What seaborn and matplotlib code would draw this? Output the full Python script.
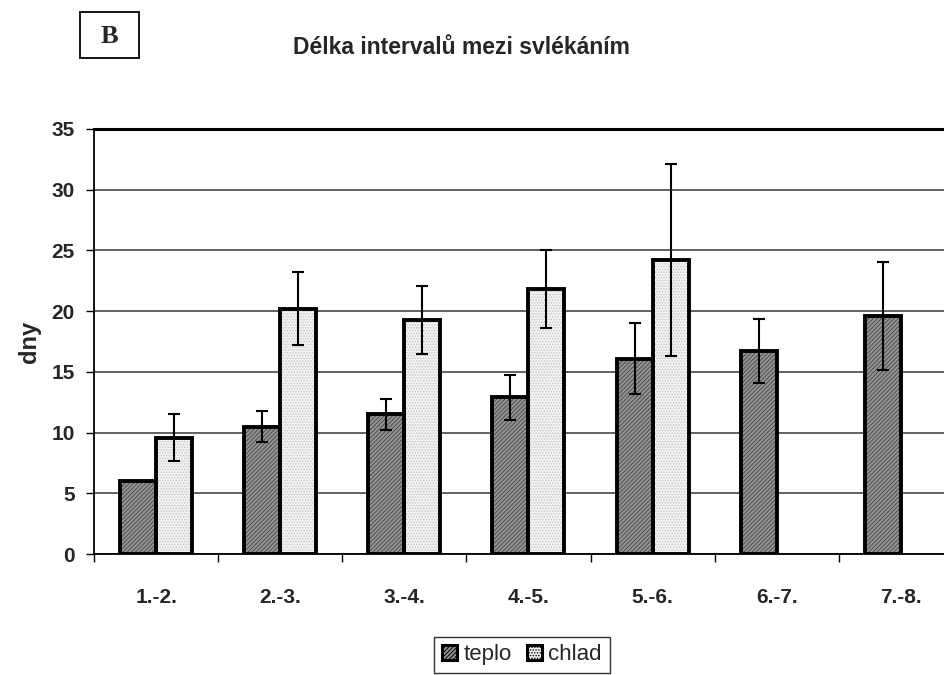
import numpy as np
import pandas as pd
import seaborn as sns
import matplotlib.pyplot as plt
from matplotlib.patches import Rectangle, Patch

# Moult-interval lengths (days), means and error half-widths
intervals = ["1.-2.", "2.-3.", "3.-4.", "4.-5.", "5.-6.", "6.-7.", "7.-8."]
teplo_mean = [6.0, 10.5, 11.5, 12.9, 16.1, 16.7, 19.6]
teplo_err = [np.nan, 1.25, 1.27, 1.85, 2.9, 2.65, 4.45]
chlad_mean = [9.6, 20.2, 19.3, 21.8, 24.2, np.nan, np.nan]
chlad_err = [1.9, 3.0, 2.8, 3.2, 7.9, np.nan, np.nan]
groups = ["teplo", "chlad"]
y_ticks = [0, 5, 10, 15, 20, 25, 30, 35]

sns.set_theme(style="white")
plt.rcParams["font.family"] = ["Liberation Sans", "DejaVu Sans"]
plt.rcParams["hatch.linewidth"] = 0.7

rows = []
for i, name in enumerate(intervals):
    for g, means in zip(groups, [teplo_mean, chlad_mean]):
        if not np.isnan(means[i]):
            rows.append({"interval": name, "skupina": g, "dny": means[i]})
df = pd.DataFrame(rows)
errors = {"teplo": teplo_err, "chlad": chlad_err}

face = {"teplo": "#969696", "chlad": "#f3f3f3"}
hatch = {"teplo": "////////", "chlad": "......"}
hatch_col = {"teplo": "#4a4a4a", "chlad": "#c4c4c4"}

fig = plt.figure(figsize=(9.44, 6.75), dpi=100)
ax = fig.add_axes([0.0996, 0.179, 0.9205, 0.630])

sns.barplot(data=df, x="interval", y="dny", hue="skupina", order=intervals,
            hue_order=groups, palette=face, width=0.58, errorbar=None,
            edgecolor="black", linewidth=2.5, legend=False, ax=ax)

# texture the bars, then redraw their outlines and error bars
for p in list(ax.patches):
    h = p.get_height()
    if not np.isfinite(h) or h == 0:
        continue
    x0, w = p.get_x(), p.get_width()
    xc = x0 + w / 2
    cat = int(round(xc))
    g = "teplo" if xc < cat else "chlad"
    p.set_hatch(hatch[g])
    p.set_edgecolor(hatch_col[g])
    p.set_linewidth(0)
    ax.add_patch(Rectangle((x0, 0), w, h, fill=False, edgecolor="black",
                           linewidth=2.8, zorder=p.get_zorder() + 0.1))
    e = errors[g][cat]
    if np.isfinite(e):
        ax.errorbar(xc, h, yerr=e, fmt="none", ecolor="black", elinewidth=1.5,
                    capsize=4.5, capthick=1.5, zorder=6)

ax.set_ylim(0, 35)
ax.set_xlim(-0.5, len(intervals) - 0.5)
ax.set_yticks(y_ticks)
ax.set_yticklabels([str(t) for t in y_ticks], fontsize=15, fontweight="bold")
ax.set_xticks(range(len(intervals)))
ax.set_xticklabels(intervals, fontsize=15, fontweight="bold")
ax.set_xticks(np.arange(-0.5, len(intervals), 1.0), minor=True)
ax.tick_params(axis="x", which="major", length=0, pad=24)
ax.tick_params(axis="x", which="minor", length=6, width=1, color="black", direction="out", bottom=True)
ax.tick_params(axis="y", length=6, width=1, color="black", direction="out", left=True, pad=8)

ax.yaxis.grid(True, color="#555555", linewidth=1.3)
ax.set_axisbelow(True)
for side in ["left", "bottom"]:
    ax.spines[side].set_color("black")
    ax.spines[side].set_linewidth(1.3)
ax.spines["top"].set_color("black")
ax.spines["top"].set_linewidth(2.2)
ax.spines["right"].set_visible(False)

ax.set_xlabel("")
ax.set_ylabel("dny", fontsize=17, fontweight="bold")
ax.yaxis.set_label_coords(-0.061, 0.5)

fig.text(0.489, 0.929, "Délka intervalů mezi svlékáním", ha="center", va="center",
         fontsize=16.5, fontweight="bold")

# panel letter in a box
fig.patches.append(Rectangle((0.0847, 0.914), 0.0625, 0.068, transform=fig.transFigure,
                             fill=False, edgecolor="black", linewidth=1.3))
fig.text(0.0847 + 0.0625 / 2, 0.946, "B", ha="center", va="center", fontsize=19,
         fontweight="bold", family=["Liberation Serif", "DejaVu Serif"])

handles = [Patch(facecolor=face[g], edgecolor="black", linewidth=2.2, hatch=hatch[g]) for g in groups]
leg = fig.legend(handles, groups, loc="upper center", bbox_to_anchor=(0.553, 0.057),
                 ncol=2, frameon=True, fancybox=False, edgecolor="black",
                 handlelength=0.65, handleheight=0.65, columnspacing=0.7,
                 handletextpad=0.3, borderpad=0.35, borderaxespad=0, fontsize=16)
leg.get_frame().set_linewidth(1.0)

fig.savefig("out.png", dpi=100)
